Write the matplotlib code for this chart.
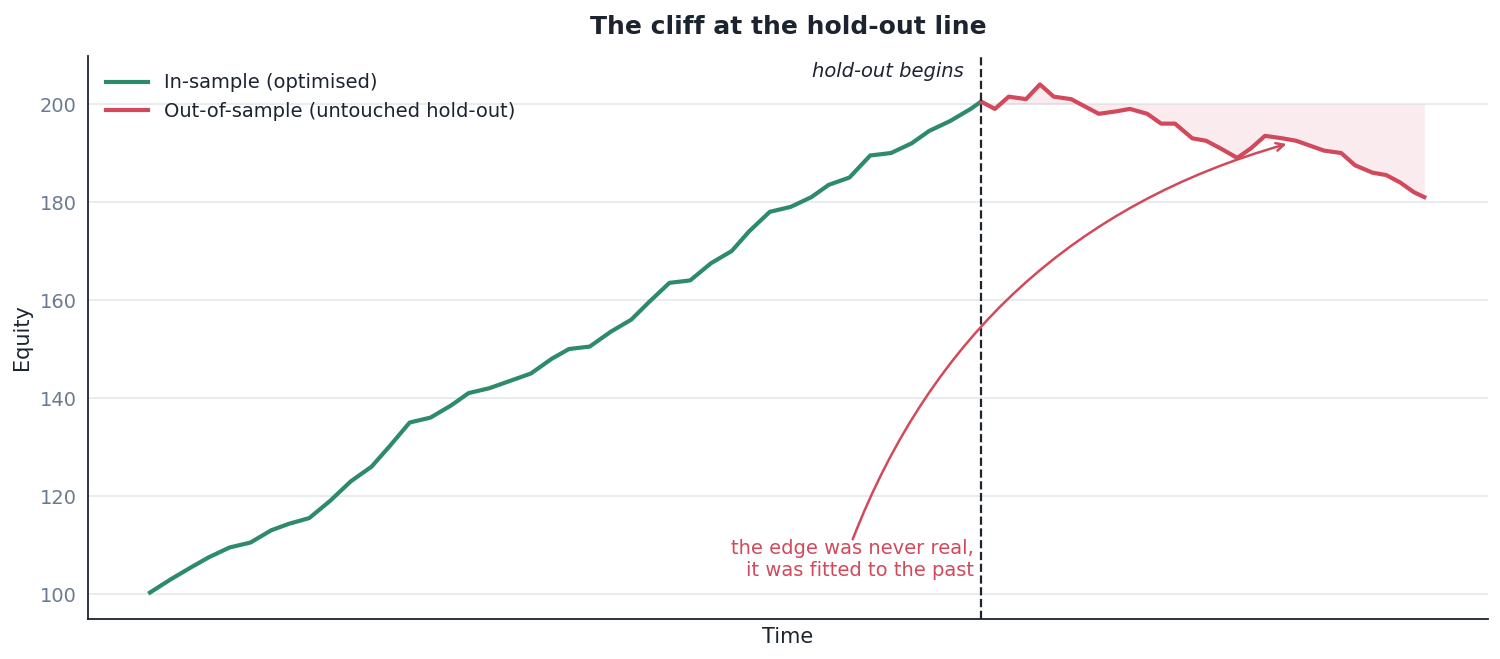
import matplotlib.pyplot as plt
import numpy as np

# in-sample equity (day, value)
is_days = [0, 6, 12, 17, 23, 29, 35, 40, 46, 52, 58, 64, 69, 75, 81, 87, 92, 98, 104,
           110, 116, 121, 127, 133, 139, 144, 150, 156, 162, 168, 173, 179, 185, 191,
           196, 202, 208, 214, 220, 225, 231, 237, 240]
is_vals = [100.3, 103, 105.5, 107.5, 109.5, 110.5, 113, 114.3, 115.5, 119, 123, 126, 130,
           135, 136, 138.5, 141, 142, 143.5, 145, 148, 150, 150.5, 153.5, 156, 159.5,
           163.5, 164, 167.5, 170, 174, 178, 179, 181, 183.5, 185, 189.5, 190, 192,
           194.5, 196.5, 199, 200.5]

# out-of-sample equity
oos_days = [240, 244, 248, 253, 257, 261, 266, 270, 274, 279, 283, 288, 292, 296, 301,
            305, 309, 314, 318, 322, 327, 331, 335, 339, 344, 348, 353, 357, 361, 365, 368]
oos_vals = [200.5, 199, 201.5, 201, 204, 201.5, 201, 199.5, 198, 198.5, 199, 198, 196,
            196, 193, 192.5, 191, 189, 191, 193.5, 193, 192.5, 191.5, 190.5, 190, 187.5,
            186, 185.5, 184, 182, 181]

green = "#2e8b6a"
red = "#d1495b"
dark = "#1c2430"

fig = plt.figure(figsize=(15, 6.59), dpi=100)
ax = fig.add_axes([88 / 1500, 40 / 659, 1400 / 1500, 563 / 659])

ax.grid(axis="y", color="#e5e7eb", lw=1.2)
ax.set_axisbelow(True)
ax.plot(is_days, is_vals, color=green, lw=3, label="In-sample (optimised)")
ax.plot(oos_days, oos_vals, color=red, lw=3, label="Out-of-sample (untouched hold-out)")
ax.fill_between(oos_days, oos_vals, oos_vals[0] - 0.5, color=red, alpha=0.1, lw=0)
ax.axvline(240, color=dark, ls="--", lw=1.6)

ax.text(235, 206.7, "hold-out begins", ha="right", va="center", style="italic",
        fontsize=14, color=dark)
ax.annotate("the edge was never real,\nit was fitted to the past",
            xy=(329, 192), xytext=(238, 107), ha="right", va="center",
            fontsize=14, color=red,
            arrowprops=dict(arrowstyle="->", color=red, lw=1.8,
                            connectionstyle="arc3,rad=-0.25",
                            shrinkA=0, patchA=None,
                            relpos=(0.5, 1.0)))

ax.set_xlim(-17.9, 386.4)
ax.set_ylim(94.9, 209.8)
ax.set_xticks([])
ax.set_yticks([100, 120, 140, 160, 180, 200])
ax.tick_params(axis="y", labelsize=14, labelcolor="#6b7a90", length=0, pad=8)
for s in ["top", "right"]:
    ax.spines[s].set_visible(False)
for s in ["left", "bottom"]:
    ax.spines[s].set_color(dark)
    ax.spines[s].set_linewidth(1.3)
ax.set_xlabel("Time", fontsize=15, color=dark, labelpad=6)
ax.set_ylabel("Equity", fontsize=15, color=dark, labelpad=6)
ax.set_title("The cliff at the hold-out line", fontsize=18, fontweight="bold",
             color=dark, pad=16)
leg = ax.legend(loc="upper left", frameon=False, fontsize=14, handlelength=2.2)
for t in leg.get_texts():
    t.set_color(dark)

fig.savefig("out.png")
